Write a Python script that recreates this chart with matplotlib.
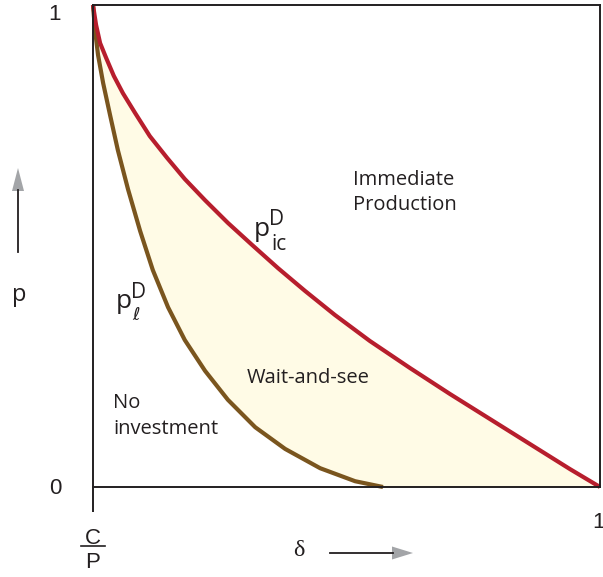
import matplotlib
matplotlib.use("Agg")
import matplotlib.pyplot as plt
import matplotlib.transforms as mtransforms
from matplotlib.patches import Polygon
from matplotlib.lines import Line2D
import numpy as np

# curve points (delta scaled so C/P -> 0, 1 -> 1)
ic_delta = [0.0, 0.006, 0.014, 0.026, 0.041, 0.059, 0.083, 0.112, 0.146,
            0.181, 0.221, 0.266, 0.314, 0.365, 0.418, 0.477, 0.546, 0.625,
            0.704, 0.783, 0.862, 0.941, 1.0]
ic_p = [1.0, 0.959, 0.921, 0.890, 0.853, 0.817, 0.776, 0.728, 0.683,
        0.639, 0.595, 0.548, 0.502, 0.454, 0.407, 0.357, 0.303, 0.247,
        0.193, 0.141, 0.089, 0.037, 0.0]

l_delta = [0.0, 0.004, 0.010, 0.020, 0.034, 0.049, 0.069, 0.093, 0.118,
           0.148, 0.181, 0.221, 0.266, 0.320, 0.379, 0.448, 0.517, 0.572]
l_p = [1.0, 0.948, 0.896, 0.838, 0.770, 0.699, 0.618, 0.531, 0.450,
       0.373, 0.305, 0.241, 0.181, 0.124, 0.079, 0.039, 0.012, 0.0]

RED = "#B71E2D"
BROWN = "#7A551E"
FILL = "#FFFBE6"
INK = "#231F20"
GREY = "#A3A5A8"

fig = plt.figure(figsize=(6.03, 5.77), dpi=100)
ax = fig.add_axes([93 / 603, 1 - 487 / 577, 507 / 603, 482 / 577])

# wait-and-see region: under p_ic, above p_l (and the axis past p_l's end)
poly_x = np.concatenate([ic_delta, l_delta[::-1]])
poly_y = np.concatenate([ic_p, l_p[::-1]])
ax.fill(poly_x, poly_y, color=FILL, lw=0, zorder=1)

ax.plot(ic_delta, ic_p, color=RED, lw=3.0, solid_capstyle="butt",
        solid_joinstyle="round", clip_on=False, zorder=3)
ax.plot(l_delta, l_p, color=BROWN, lw=3.0, solid_capstyle="butt",
        solid_joinstyle="round", clip_on=False, zorder=2)

ax.set_xlim(0, 1)
ax.set_ylim(0, 1)
ax.set_xticks([])
ax.set_yticks([])
for s in ax.spines.values():
    s.set_color(INK)
    s.set_linewidth(1.4)
    s.set_zorder(4)

# tick below the origin, at C/P
ax.plot([0, 0], [0, -25 / 482], color=INK, lw=1.4, clip_on=False,
        solid_capstyle="butt")

# image-pixel transform (origin top-left) for the outside annotations
px = mtransforms.Affine2D().scale(1, -1).translate(0, 577).scale(1 / 603, 1 / 577) + fig.transFigure

num = dict(family="Liberation Sans", color=INK, fontsize=16)
fig.text(54, 15, "1", transform=px, ha="center", va="center", **num)
fig.text(55, 488, "0", transform=px, ha="center", va="center", **num)
fig.text(598, 522, "1", transform=px, ha="center", va="center", **num)

# C/P fraction
fig.text(93, 538, "C", transform=px, ha="center", va="center", **num)
fig.add_artist(Line2D([81, 105], [546, 546], transform=px, color=INK, lw=1.2))
fig.text(93, 563, "P", transform=px, ha="center", va="center", **num)

# axis names with arrows
fig.text(299, 551, "δ", transform=px, ha="center", va="center",
         family="Liberation Serif", fontsize=17.5, color=INK)
fig.add_artist(Line2D([330, 393], [553, 553], transform=px, color=INK, lw=1.3))
fig.add_artist(Polygon([[392, 546.5], [413, 553], [392, 559.5]], closed=True,
                       transform=px, color=GREY, lw=0))

fig.text(19, 295, "p", transform=px, ha="center", va="center",
         family="Open Sans", fontsize=17, color=INK)
fig.add_artist(Line2D([18, 18], [252, 190], transform=px, color=INK, lw=1.3))
fig.add_artist(Polygon([[12, 191], [18, 168], [24, 191]], closed=True,
                       transform=px, color=GREY, lw=0))


# region labels (data coords from pixel estimates)
def dx(p):
    return (p - 93) / 507


def dy(p):
    return (487 - p) / 482


lab = dict(family="Open Sans", color=INK, fontsize=14.5, va="baseline", ha="left")
ax.text(dx(353), dy(185), "Immediate", **lab)
ax.text(dx(353), dy(210), "Production", **lab)
ax.text(dx(247), dy(383), "Wait-and-see", **lab)
ax.text(dx(113), dy(408), "No", **lab)
ax.text(dx(113), dy(434), "investment", **lab)

# curve labels
cl = dict(family="Open Sans", color=INK, va="baseline", ha="left")
ax.text(dx(254), dy(236), "p", fontsize=19, **cl)
ax.text(dx(269), dy(225), "D", fontsize=15, **cl)
ax.text(dx(271), dy(250), "ic", fontsize=15, **cl)

ax.text(dx(116), dy(308), "p", fontsize=19, **cl)
ax.text(dx(131), dy(298), "D", fontsize=15, **cl)
ax.text(dx(132), dy(320), r"$\ell$", fontsize=13, color=INK, va="baseline", ha="left")

fig.savefig("out.png", dpi=100)
